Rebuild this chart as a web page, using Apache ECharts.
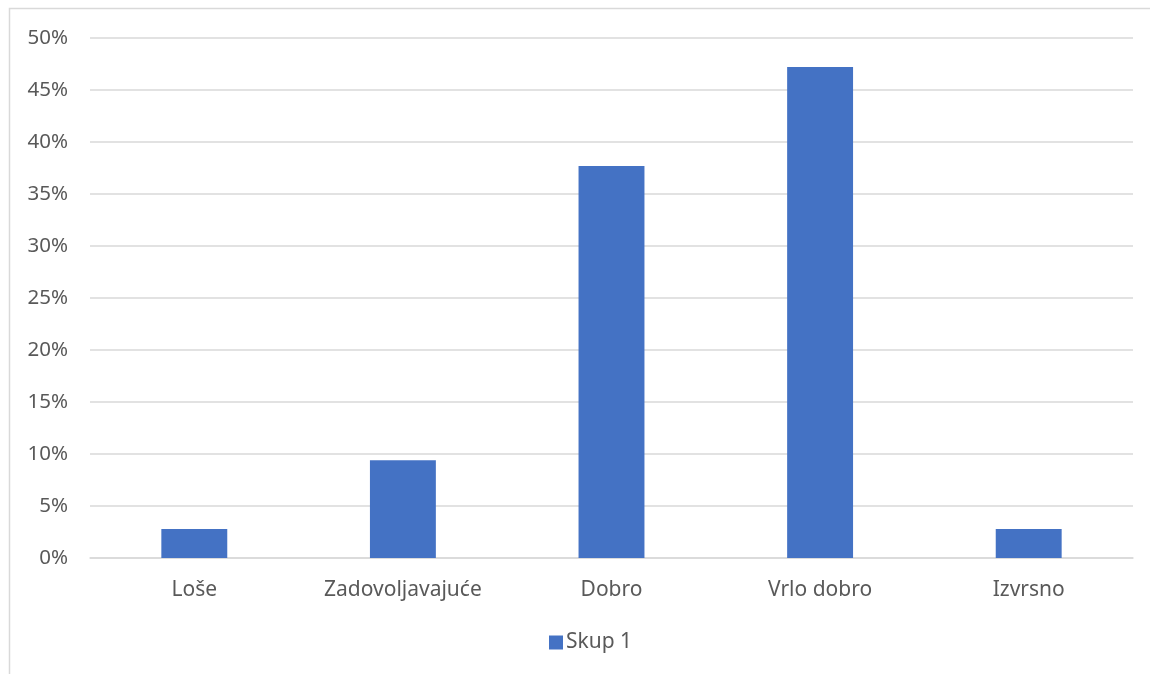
<!DOCTYPE html>
<html>
<head>
<meta charset="utf-8">
<script src="https://cdn.jsdelivr.net/npm/echarts@6/dist/echarts.min.js"></script>
<style>html,body{margin:0;padding:0;background:#fff}#c{width:1150px;height:674px}</style>
</head>
<body>
<div id="c"></div>
<script>
const categories = ['Loše', 'Zadovoljavajuće', 'Dobro', 'Vrlo dobro', 'Izvrsno'];
const seriesName = 'Skup 1';
const values = [2.8, 9.4, 37.7, 47.2, 2.8];
const yTicks = [0, 5, 10, 15, 20, 25, 30, 35, 40, 45, 50];

const chart = echarts.init(document.getElementById('c'), null, {renderer: 'canvas'});
const font = 'Noto Sans';
chart.setOption({
  animation: false,
  backgroundColor: '#fff',
  graphic: [{
    type: 'rect', shape: {x: 9.5, y: 8.5, width: 1300, height: 800},
    style: {fill: 'none', stroke: '#d9d9d9', lineWidth: 1.5}, silent: true
  }],
  grid: {left: 90, right: 17, top: 38, bottom: 116, containLabel: false},
  legend: {
    data: [seriesName], bottom: 16, left: 544,
    itemWidth: 14, itemHeight: 14, itemGap: 6, icon: 'rect',
    textStyle: {fontFamily: font, fontSize: 21, color: '#595959', padding: [0, 0, 0, -2]}
  },
  xAxis: {
    type: 'category', data: categories,
    axisLine: {lineStyle: {color: '#d9d9d9', width: 1.5}},
    axisTick: {show: false},
    axisLabel: {fontFamily: font, fontSize: 21, color: '#595959', margin: 22}
  },
  yAxis: {
    type: 'value', min: yTicks[0], max: yTicks[yTicks.length - 1], interval: 5,
    axisLine: {show: false}, axisTick: {show: false},
    splitLine: {lineStyle: {color: '#d9d9d9', width: 1.5}},
    axisLabel: {fontFamily: font, fontSize: 20.5, color: '#595959', margin: 22,
      formatter: v => v + '%'}
  },
  series: [{
    name: seriesName, type: 'bar', data: values, barWidth: '31.6%',
    itemStyle: {color: '#4472C4'}
  }]
});
</script>
</body>
</html>
